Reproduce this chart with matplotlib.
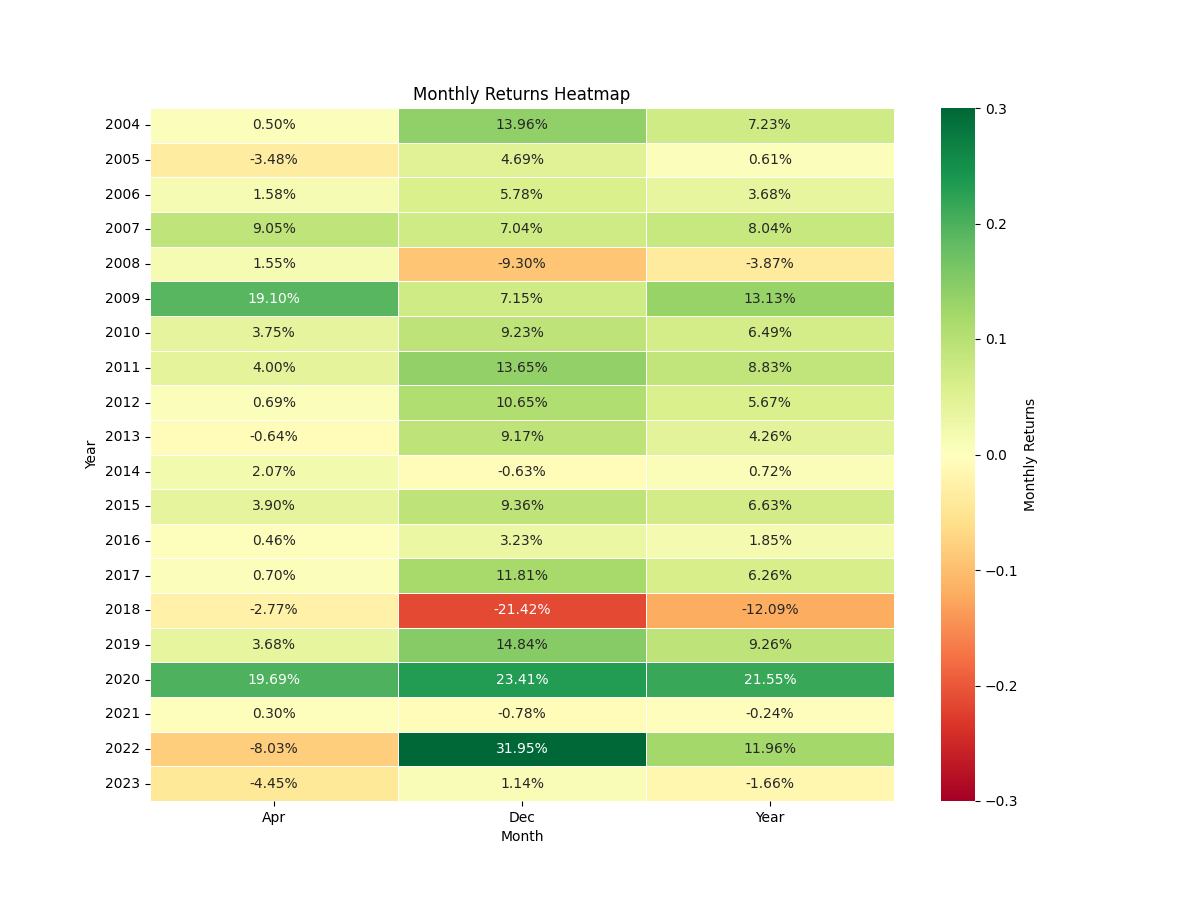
import matplotlib
matplotlib.use("Agg")
import matplotlib.pyplot as plt
import seaborn as sns
import numpy as np
import pandas as pd

years = list(range(2004, 2024))
columns = ["Apr", "Dec", "Year"]
apr = [0.50, -3.48, 1.58, 9.05, 1.55, 19.10, 3.75, 4.00, 0.69, -0.64,
       2.07, 3.90, 0.46, 0.70, -2.77, 3.68, 19.69, 0.30, -8.03, -4.45]
dec = [13.96, 4.69, 5.78, 7.04, -9.30, 7.15, 9.23, 13.65, 10.65, 9.17,
       -0.63, 9.36, 3.23, 11.81, -21.42, 14.84, 23.41, -0.78, 31.95, 1.14]
year_ret = [7.23, 0.61, 3.68, 8.04, -3.87, 13.13, 6.49, 8.83, 5.67, 4.26,
            0.72, 6.63, 1.85, 6.26, -12.09, 9.26, 21.55, -0.24, 11.96, -1.66]

df = pd.DataFrame({"Apr": apr, "Dec": dec, "Year": year_ret}, index=years) / 100.0
df.index.name = "Year"
df.columns.name = "Month"

fig, ax = plt.subplots(figsize=(12, 9), dpi=100)
sns.heatmap(df, annot=True, fmt=".2%", cmap="RdYlGn", vmin=-0.3, vmax=0.3,
            linewidths=0.5, linecolor="white", ax=ax,
            cbar_kws={"label": "Monthly Returns"})
ax.set_title("Monthly Returns Heatmap")
ax.set_xlabel("Month")
ax.set_ylabel("Year")
plt.setp(ax.get_yticklabels(), rotation=0)
fig.savefig("out.png", dpi=100)
